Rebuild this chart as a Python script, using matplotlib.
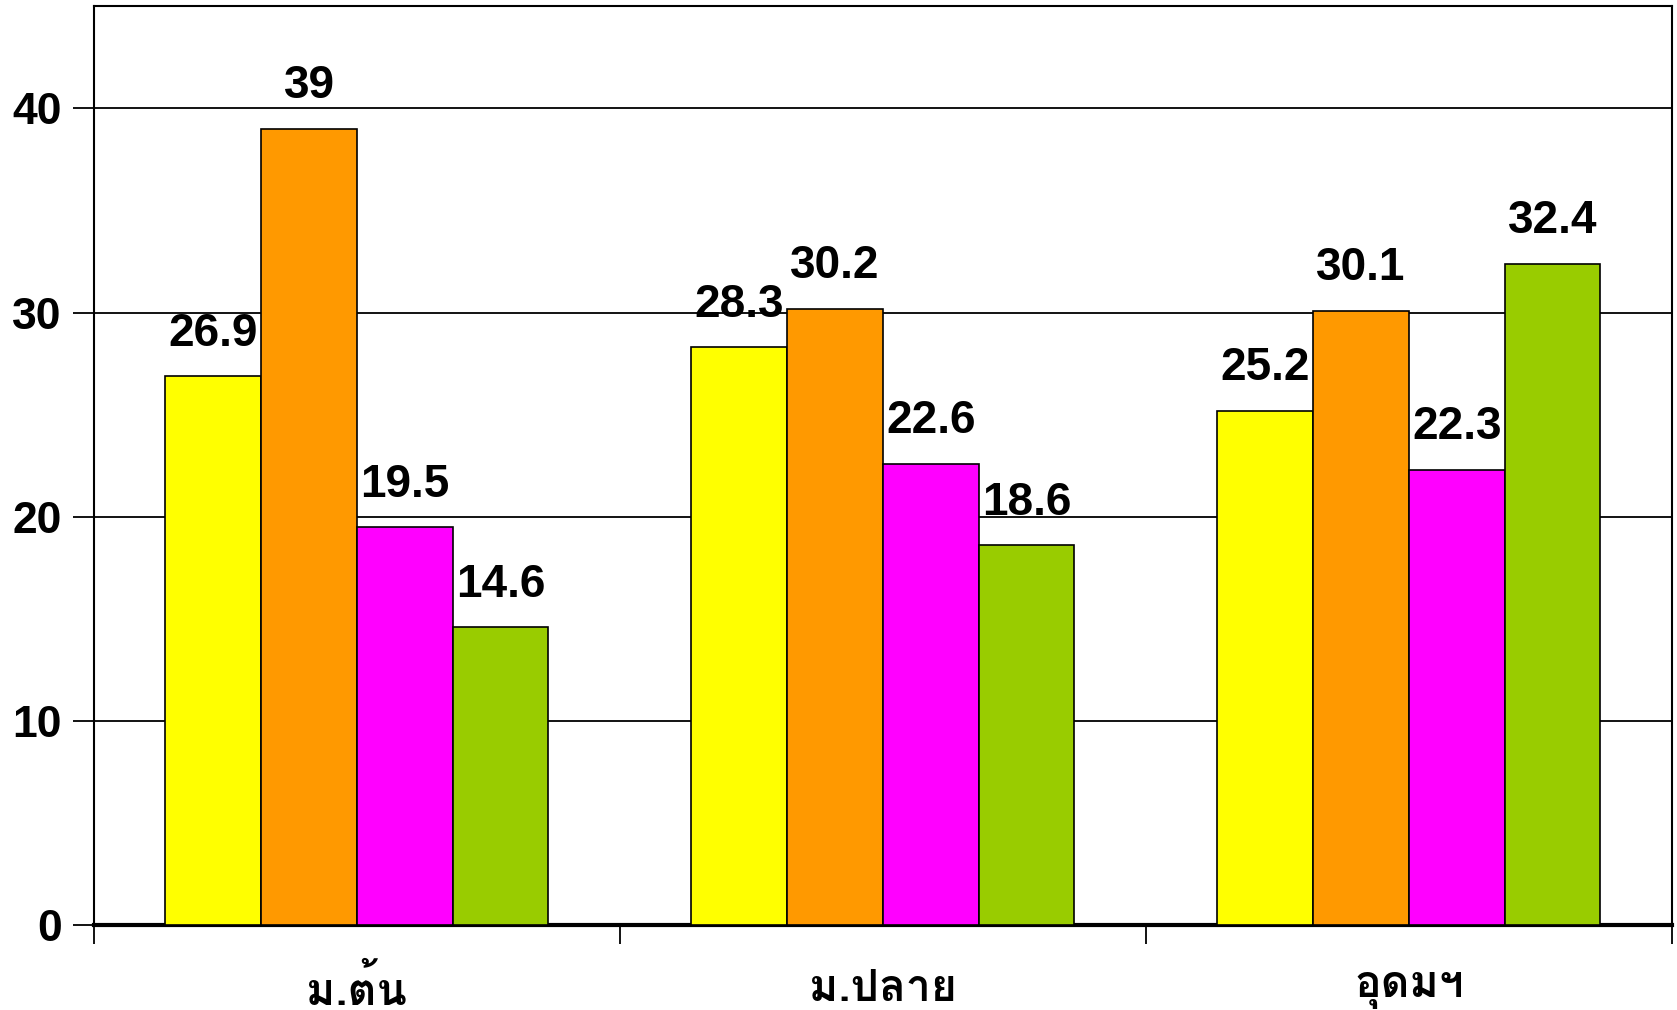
import glob
import numpy as np
import matplotlib
matplotlib.use('Agg')
import matplotlib.pyplot as plt
from matplotlib import font_manager

# ── Data ──────────────────────────────────────────────────────────────────────
groups  = ['ม.ต้น', 'ม.ปลาย', 'อุดมฯ']
yellow  = [26.9, 28.3, 25.2]
orange  = [39, 30.2, 30.1]
magenta = [19.5, 22.6, 22.3]
green   = [14.6, 18.6, 32.4]
series  = [yellow, orange, magenta, green]
COLORS  = ['#FFFF00', '#FF9900', '#FF00FF', '#99CC00']

# Thai font: prefer a condensed bold looped face (Cordia/Angsana-like)
thai_path = None
for pat in ['/usr/share/fonts/**/Umpush-Bold.*', '/usr/share/fonts/**/Garuda-Bold.*',
            '/usr/share/fonts/**/Loma-Bold.*', '/usr/share/fonts/**/Sarabun-Bold.ttf']:
    hits = glob.glob(pat, recursive=True)
    if hits:
        thai_path = hits[0]
        break
thai_fp = font_manager.FontProperties(fname=thai_path, size=32) if thai_path \
    else font_manager.FontProperties(family='DejaVu Sans', weight='bold', size=28)

plt.rcParams['font.family'] = ['Liberation Sans', 'DejaVu Sans']

fig = plt.figure(figsize=(16.77, 10.10), dpi=100)
ax = fig.add_axes([0.056, 0.084, 0.941, 0.9097])

x = np.arange(len(groups))
w = 0.182
for i, (vals, col) in enumerate(zip(series, COLORS)):
    xs = x + (i - 1.5) * w
    ax.bar(xs, vals, width=w, color=col, edgecolor='black', linewidth=1.2, zorder=3)
    for xi, v in zip(xs, vals):
        ax.text(xi, v + 1.0, f'{v:g}', ha='center', va='bottom',
                fontsize=33, fontweight='bold', zorder=4)

ax.set_xlim(-0.5, 2.5)
ax.set_ylim(0, 45)
ax.set_yticks([0, 10, 20, 30, 40])
ax.set_yticklabels(['0', '10', '20', '30', '40'], fontsize=32, fontweight='bold')
ax.yaxis.grid(True, color='black', linewidth=1.3, zorder=0)
ax.tick_params(axis='y', length=15, width=1.3, pad=8)

ax.set_xticks([-0.5, 0.5, 1.5, 2.5])
ax.set_xticklabels([])
ax.tick_params(axis='x', length=14, width=1.3)
for xi, g in zip(x, groups):
    ax.text(xi, -0.070, g, transform=ax.get_xaxis_transform(), ha='center', va='center',
            fontproperties=thai_fp)

for s in ['top', 'right', 'left']:
    ax.spines[s].set_linewidth(1.5)
ax.spines['bottom'].set_linewidth(3)

plt.savefig('out.png', dpi=100)
